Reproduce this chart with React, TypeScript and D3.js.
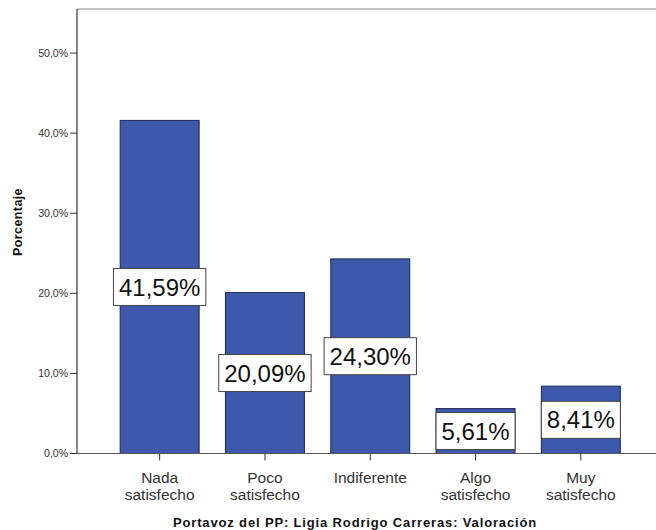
import React from "react";
import * as d3 from "d3";

const categories = ["Nada satisfecho", "Poco satisfecho", "Indiferente", "Algo satisfecho", "Muy satisfecho"];
const categoryLines = [["Nada", "satisfecho"], ["Poco", "satisfecho"], ["Indiferente"], ["Algo", "satisfecho"], ["Muy", "satisfecho"]];
const values = [41.59, 20.09, 24.30, 5.61, 8.41];
const valueLabels = ["41,59%", "20,09%", "24,30%", "5,61%", "8,41%"];
const yTicks = [0, 10, 20, 30, 40, 50];
const yTickLabels = ["0,0%", "10,0%", "20,0%", "30,0%", "40,0%", "50,0%"];
const yTitle = "Porcentaje";
const xTitle = "Portavoz del PP: Ligia Rodrigo Carreras: Valoración";

const W = 656, H = 530;
const left = 77, top = 9, bottom = 453.5;
const rightEdge = 663.5;

export default function App() {
  const x = d3.scaleBand<string>().domain(categories).range([left, rightEdge]).paddingInner(0.25).paddingOuter(0.41);
  const y = d3.scaleLinear().domain([0, 55.5]).range([bottom, top]);
  const font = "Arial, 'Liberation Sans', sans-serif";
  const measure = (s: string, size: number) => {
    const w: Record<string, number> = { ",": 0.278, "%": 0.889 };
    let t = 0;
    for (const c of s) t += w[c] ?? 0.556;
    return t * size;
  };
  const boxH = 37;
  return (
    <svg width={W} height={H} style={{ position: "absolute", left: 0, top: 0, background: "#fff" }} fontFamily={font}>
      <line x1={left} x2={W} y1={top} y2={top} stroke="#888" strokeWidth={1.2} />
      {categories.map((c, i) => {
        const x0 = x(c)!;
        const bw = x.bandwidth();
        return (
          <rect key={c} x={x0} y={y(values[i])} width={bw} height={bottom - y(values[i])}
            fill="#3E58AB" stroke="#1E2850" strokeWidth={1} />
        );
      })}
      <line x1={left} x2={W} y1={bottom} y2={bottom} stroke="#555" strokeWidth={1.2} />
      <line x1={left} x2={left} y1={top} y2={bottom} stroke="#333" strokeWidth={1.2} />
      {yTicks.map((t, i) => (
        <g key={t}>
          <line x1={left - 7} x2={left} y1={y(t)} y2={y(t)} stroke="#333" />
          <text x={left - 9} y={y(t)} dy="0.35em" textAnchor="end" fontSize={10.5} fill="#333">{yTickLabels[i]}</text>
        </g>
      ))}
      {categories.map((c, i) => {
        const cx = x(c)! + x.bandwidth() / 2;
        return (
          <g key={c}>
            <line x1={cx} x2={cx} y1={bottom} y2={bottom + 7} stroke="#333" />
            {categoryLines[i].map((ln, j) => (
              <text key={j} x={cx} y={483 + j * 17} textAnchor="middle" fontSize={15.5} fill="#333">{ln}</text>
            ))}
          </g>
        );
      })}
      {categories.map((c, i) => {
        const cx = x(c)! + x.bandwidth() / 2;
        let cy = (y(values[i]) + bottom) / 2;
        if (cy + boxH / 2 > bottom - 1) cy = bottom - 1 - boxH / 2 + 2;
        const fs = 24;
        const bw = measure(valueLabels[i], fs) + 11;
        return (
          <g key={c}>
            <rect x={cx - bw / 2} y={cy - boxH / 2} width={bw} height={boxH} fill="#fff" stroke="#444" strokeWidth={1} />
            <text x={cx} y={cy} dy="0.36em" textAnchor="middle" fontSize={fs} fill="#111">{valueLabels[i]}</text>
          </g>
        );
      })}
      <text transform={`translate(${22},${222}) rotate(-90)`} textAnchor="middle" fontSize={12.5} letterSpacing={0.4} fontWeight="bold" fill="#111">{yTitle}</text>
      <text x={355} y={526.5} textAnchor="middle" fontSize={13} letterSpacing={0.85} fontWeight="bold" fill="#111">{xTitle}</text>
    </svg>
  );
}
